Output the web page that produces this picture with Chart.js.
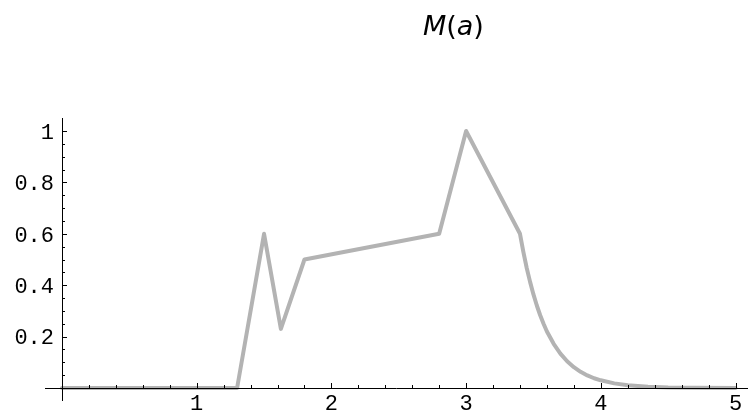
<!DOCTYPE html>
<html>
<head>
<meta charset="utf-8">
<script src="https://cdn.jsdelivr.net/npm/chart.js@4"></script>
<style>
    html, body { margin: 0; padding: 0; background: #fff; }
    #wrap { width: 752px; height: 416px; position: relative; }
</style>
</head>
<body>
<div id="wrap"><canvas id="chart" width="752" height="416"></canvas></div>
<script>
const aValues = [0, 1.3, 1.5, 1.625, 1.8, 2.8, 3.0, 3.4, 3.425, 3.45, 3.475, 3.5, 3.525, 3.55, 3.575, 3.6, 3.65, 3.7, 3.75, 3.8, 3.85, 3.9, 3.95, 4.0, 4.1, 4.2, 4.35, 4.5, 4.7, 5.0];
const mValues = [0, 0, 0.6, 0.23, 0.5, 0.6, 1.0, 0.6, 0.53, 0.467, 0.413, 0.364, 0.321, 0.283, 0.25, 0.22, 0.172, 0.134, 0.104, 0.081, 0.063, 0.049, 0.038, 0.03, 0.018, 0.011, 0.005, 0.002, 0.0005, 0];

const xTickLabels = ['1', '2', '3', '4', '5'];
const yTickLabels = ['0.2', '0.4', '0.6', '0.8', '1'];
const titleText = ['M', '(', 'a', ')'];

const points = aValues.map((a, i) => ({ x: a, y: mValues[i] }));

// Eixos no estilo Mathematica, desenhados com as escalas do Chart.js
const axesPlugin = {
    id: 'axes',
    afterDraw(chart) {
        const ctx = chart.ctx;
        const xs = chart.scales.x;
        const ys = chart.scales.y;
        const x0 = xs.getPixelForValue(0);
        const y0 = ys.getPixelForValue(0);
        ctx.save();
        ctx.strokeStyle = '#000';
        ctx.lineWidth = 1;
        ctx.beginPath();
        ctx.moveTo(45, y0 + 0.5);
        ctx.lineTo(748, y0 + 0.5);
        ctx.moveTo(x0 + 0.5, 118);
        ctx.lineTo(x0 + 0.5, 401);
        ctx.stroke();

        // marcas do eixo x
        ctx.beginPath();
        for (let i = 1; i <= 25; i++) {
            const px = Math.round(xs.getPixelForValue(i * 0.2)) + 0.5;
            const len = i % 5 === 0 ? 5 : 3;
            ctx.moveTo(px, y0);
            ctx.lineTo(px, y0 - len);
        }
        // marcas do eixo y
        for (let i = 1; i <= 20; i++) {
            const py = Math.round(ys.getPixelForValue(i * 0.05)) + 0.5;
            const len = i % 4 === 0 ? 5 : 3;
            ctx.moveTo(x0, py);
            ctx.lineTo(x0 + len, py);
        }
        ctx.stroke();

        ctx.fillStyle = '#000';
        ctx.font = '22px "Liberation Mono", "Courier New", monospace';
        ctx.textAlign = 'center';
        ctx.textBaseline = 'alphabetic';
        xTickLabels.forEach(t => {
            ctx.fillText(t, xs.getPixelForValue(parseFloat(t)), 410);
        });
        ctx.textAlign = 'right';
        ctx.textBaseline = 'middle';
        yTickLabels.forEach(t => {
            ctx.fillText(t, 54, ys.getPixelForValue(parseFloat(t)) + 2);
        });

        // título M(a)
        ctx.textAlign = 'left';
        ctx.textBaseline = 'alphabetic';
        let tx = 423;
        titleText.forEach(ch => {
            const italic = (ch === 'M' || ch === 'a');
            ctx.font = (italic ? 'italic ' : '') + '27px "DejaVu Sans", sans-serif';
            ctx.fillText(ch, tx, 35);
            tx += ctx.measureText(ch).width;
        });
        ctx.restore();
    }
};

new Chart(document.getElementById('chart').getContext('2d'), {
    type: 'scatter',
    data: {
        datasets: [{
            data: points,
            showLine: true,
            borderColor: '#b3b3b3',
            borderWidth: 4,
            pointRadius: 0,
            tension: 0,
            clip: false,
            borderJoinStyle: 'round',
            borderCapStyle: 'round'
        }]
    },
    options: {
        responsive: false,
        animation: false,
        events: [],
        layout: { padding: { left: 62, right: 16.5, top: 131, bottom: 28 } },
        plugins: { legend: { display: false }, tooltip: { enabled: false } },
        scales: {
            x: { type: 'linear', min: 0, max: 5, display: false },
            y: { type: 'linear', min: 0, max: 1, display: false }
        }
    },
    plugins: [axesPlugin]
});
</script>
</body>
</html>
